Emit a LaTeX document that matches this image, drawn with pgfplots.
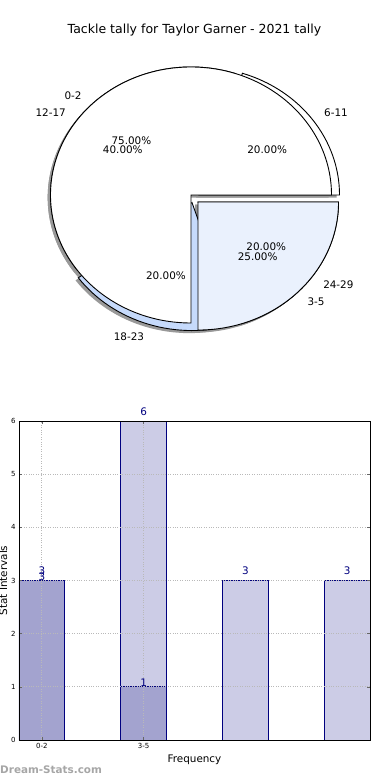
\documentclass[border=0pt]{standalone}
\usepackage{fontspec}
\setmainfont{DejaVu Sans}
\usepackage{pgfplots}
\pgfplotsset{compat=1.18}
\definecolor{barDark}{HTML}{A3A3CF}
\definecolor{barLight}{HTML}{CCCCE6}
\definecolor{edgeNavy}{HTML}{00007F}
\definecolor{pieLight}{HTML}{EAF1FD}
\definecolor{pieBlue}{HTML}{C6DAFB}
\newcommand{\fs}[1]{\fontsize{#1}{#1}\selectfont}
\def\rx{140.5pt}\def\ry{128pt}
% #1 start angle, #2 end angle, #3 dx, #4 dy (axis units), #5 style
\newcommand{\pieWedge}[5]{\path[#5] (axis cs:{#3},{#4}) -- (axis cs:{#3+cos(#1)},{#4+sin(#1)}) arc[start angle=#1, end angle=#2, x radius=\rx, y radius=\ry] -- cycle;}
\tikzset{lbl/.style={font=\fs{10.4}, inner sep=0pt}}
\begin{document}%
\begin{tikzpicture}
% pie 1 values: 0-2 = 3, 3-5 = 1
\pgfmathsetmacro\tA{360*3/(3+1)}
% pie 2 values: 6-11 = 3, 12-17 = 6, 18-23 = 3, 24-29 = 3
\pgfmathsetmacro\bA{360*3/(3+6+3+3)}
\pgfmathsetmacro\bB{360*(3+6)/(3+6+3+3)}
\pgfmathsetmacro\bC{360*(3+6+3)/(3+6+3+3)}
% ---------------- pie charts ----------------
\begin{axis}[at={(191pt,585pt)}, anchor=origin, x=140.5pt, y=128pt,
  xmin=-1.3, xmax=1.3, ymin=-1.3, ymax=1.3, hide axis, clip=false]
% shadows
\pieWedge{0}{\bA}{0.057-0.02}{0-0.02}{fill=black!40}
\pieWedge{\bA}{\bB}{0-0.02}{0-0.02}{fill=black!40}
\pieWedge{\bB}{\bC}{0.007-0.02}{-0.059-0.02}{fill=black!40}
\pieWedge{\bC}{360}{0.05-0.02}{-0.055-0.02}{fill=black!40}
\pieWedge{0}{\tA}{0-0.02}{0-0.02}{fill=black!40}
\pieWedge{\tA}{360}{0.05-0.02}{-0.055-0.02}{fill=black!40}
% pie 2
\pieWedge{0}{\bA}{0.057}{0}{fill=white, draw=black, line width=0.9pt}
\pieWedge{\bA}{\bB}{0}{0}{fill=white, draw=black, line width=0.9pt}
\pieWedge{\bB}{\bC}{0.007}{-0.059}{fill=pieBlue, draw=black, line width=0.9pt}
\pieWedge{\bC}{360}{0.05}{-0.055}{fill=white, draw=black, line width=0.9pt}
% pie 1
\pieWedge{0}{\tA}{0}{0}{fill=white, draw=black, line width=0.9pt}
\pieWedge{\tA}{360}{0.05}{-0.055}{fill=pieLight, draw=black, line width=0.9pt}
% labels
\node[lbl, anchor=east] at (axis cs:{1.1*cos(135)},{1.1*sin(135)}) {0-2};
\node[lbl, anchor=west] at (axis cs:{0.05+1.1*cos(315)},{-0.055+1.1*sin(315)}) {3-5};
\node[lbl, anchor=west] at (axis cs:{0.057+1.1*cos(36)},{1.1*sin(36)}) {6-11};
\node[lbl, anchor=east] at (axis cs:{1.1*cos(144)},{1.1*sin(144)}) {12-17};
\node[lbl, anchor=east] at (axis cs:{0.007+1.1*cos(252)},{-0.059+1.1*sin(252)}) {18-23};
\node[lbl, anchor=west] at (axis cs:{0.05+1.1*cos(324)},{-0.055+1.1*sin(324)}) {24-29};
\node[lbl] at (axis cs:{0.6*cos(135)},{0.6*sin(135)}) {75.00\%};
\node[lbl] at (axis cs:{0.05+0.6*cos(315)},{-0.055+0.6*sin(315)}) {25.00\%};
\node[lbl] at (axis cs:{0.057+0.6*cos(36)},{0.6*sin(36)}) {20.00\%};
\node[lbl] at (axis cs:{0.6*cos(144)},{0.6*sin(144)}) {40.00\%};
\node[lbl] at (axis cs:{0.007+0.6*cos(252)},{-0.059+0.6*sin(252)}) {20.00\%};
\node[lbl] at (axis cs:{0.05+0.6*cos(324)},{-0.055+0.6*sin(324)}) {20.00\%};
\node[font=\fs{12.5}, inner sep=0pt] at (axis cs:0.025,1.289) {Tackle tally for Taylor Garner - 2021 tally};
\end{axis}
% ---------------- bar chart ----------------
\begin{axis}[at={(19pt,40pt)}, anchor=south west, width=351pt, height=319pt, scale only axis,
  xmin=-0.225, xmax=3.225, ymin=0, ymax=6,
  xtick={0,1}, xticklabels={0-2,3-5}, ytick={0,1,...,6},
  tick label style={font=\fs{7}}, /pgf/number format/assume math mode=true,
  grid=major, grid style={gray!55, line width=0.8pt, dash pattern=on 0.8pt off 1.6pt},
  axis on top, axis line style={black, line width=0.8pt},
  tick style={black!60, line width=0.6pt}, major tick length=3pt,
  xlabel={Frequency}, xlabel style={font=\fs{10.4}, at={(axis description cs:0.5,0)}, anchor=center, yshift=-20pt},
  ylabel={Stat Intervals}, ylabel style={font=\fs{10.4}, at={(axis description cs:-0.045,0.5)}, anchor=center},
  clip=false]
\addplot[ybar, bar shift=0pt, bar width=0.45, fill=barLight, draw=edgeNavy, line width=0.7pt,
  nodes near coords, nodes near coords style={font=\fs{10.4}, text=edgeNavy, inner sep=0pt, anchor=south, yshift=5.5pt}]
  coordinates {(0,3) (1,6) (2,3) (3,3)};
\addplot[ybar, bar shift=0pt, bar width=0.45, fill=barDark, draw=edgeNavy, line width=0.7pt,
  nodes near coords, nodes near coords style={font=\fs{10.4}, text=edgeNavy, inner sep=0pt, anchor=south, yshift=0pt}]
  coordinates {(0,3) (1,1)};
\node[anchor=west, inner sep=0pt, text=gray!70, font=\bfseries\fs{10.4}] at (axis description cs:-0.054,-0.094) {Dream-Stats.com};
\end{axis}
\pgfresetboundingbox
\path[use as bounding box] (0pt,0pt) rectangle (390pt,780pt);
\end{tikzpicture}%
\end{document}
